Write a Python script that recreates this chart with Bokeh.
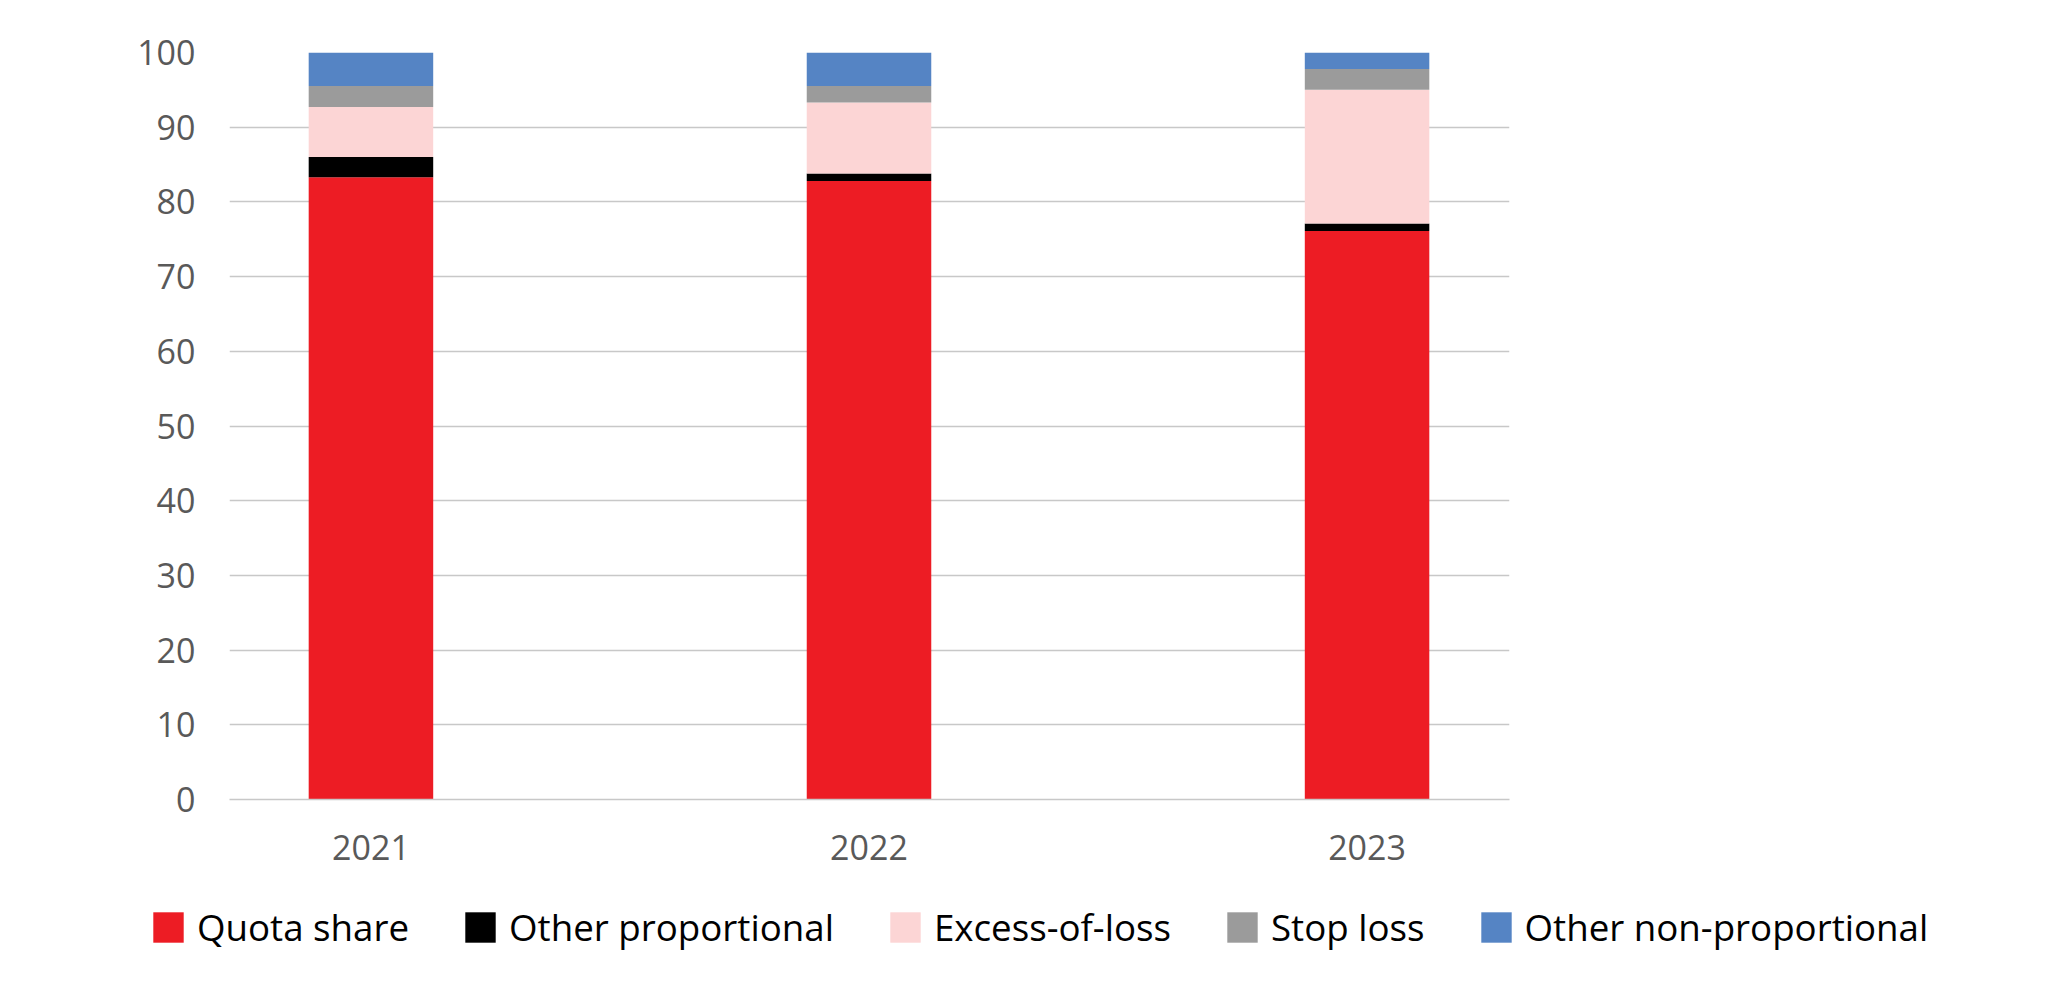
from bokeh.plotting import figure
from bokeh.models import Range1d, FixedTicker, Legend, LegendItem
from bokeh.layouts import column
from bokeh.embed import file_html
from bokeh.resources import INLINE

years = [2021, 2022, 2023]
quota_share = [83.3, 82.8, 76.1]
other_proportional = [2.7, 1.0, 1.0]
excess_of_loss = [6.7, 9.5, 17.9]
stop_loss = [2.8, 2.2, 2.8]
other_non_proportional = [4.5, 4.5, 2.2]

series_names = ["Quota share", "Other proportional", "Excess-of-loss", "Stop loss", "Other non-proportional"]
series_values = [quota_share, other_proportional, excess_of_loss, stop_loss, other_non_proportional]
series_colors = ["#ED1C24", "#000000", "#FCD5D5", "#9B9B9B", "#5584C4"]
y_ticks = [0, 10, 20, 30, 40, 50, 60, 70, 80, 90, 100]

W = 2033
p = figure(width=W, height=880, output_backend="svg", toolbar_location=None,
           x_range=Range1d(2020.716, 2023.286), y_range=Range1d(0, 100),
           min_border_left=229, min_border_top=52, min_border_right=524, min_border_bottom=81)
p.outline_line_color = None
p.frame_align = False

# legend strip below the chart (separate plot so the legend is not clipped to the chart frame)
p2 = figure(width=W, height=89, output_backend="svg", toolbar_location=None,
            x_range=Range1d(0, 1), y_range=Range1d(0, 1),
            x_axis_type=None, y_axis_type=None,
            min_border_left=0, min_border_right=0, min_border_top=0, min_border_bottom=0)
p2.outline_line_color = None
p2.grid.visible = False
p2.frame_align = False

items = []
bottoms = [0.0] * len(years)
for name, vals, col in zip(series_names, series_values, series_colors):
    tops = [b + v for b, v in zip(bottoms, vals)]
    p.vbar(x=years, width=0.25, bottom=bottoms, top=tops, fill_color=col, line_color=None)
    # same bars in the legend strip, outside its visible range: they only supply legend swatches
    proxy = p2.vbar(x=years, width=0.25, bottom=bottoms, top=tops, fill_color=col, line_color=None)
    items.append(LegendItem(label=name, renderers=[proxy]))
    bottoms = tops

p.xaxis.ticker = FixedTicker(ticks=years)
p.yaxis.ticker = FixedTicker(ticks=y_ticks)
p.xgrid.grid_line_color = None
p.ygrid.grid_line_color = "#C8C8C8"
p.ygrid.grid_line_width = 1.5

for ax in (p.xaxis[0], p.yaxis[0]):
    ax.major_tick_line_color = None
    ax.minor_tick_line_color = None
    ax.major_label_text_font = "Open Sans"
    ax.major_label_text_font_size = "34px"
    ax.major_label_text_color = "#595959"
p.yaxis.axis_line_color = None
p.xaxis.axis_line_color = "#C8C8C8"
p.xaxis.axis_line_width = 1.5
p.yaxis.major_label_standoff = 28
p.xaxis.major_label_standoff = 29

legend = Legend(items=items, orientation="horizontal", location=(149, 17),
                padding=0, margin=0, spacing=52, label_standoff=10,
                glyph_width=38, glyph_height=38,
                label_text_font="Open Sans", label_text_font_size="36.7px",
                label_text_color="#000000", border_line_color=None,
                background_fill_alpha=0)
p2.add_layout(legend, "center")

open("out.html", "w").write(file_html(column(p, p2), INLINE))
